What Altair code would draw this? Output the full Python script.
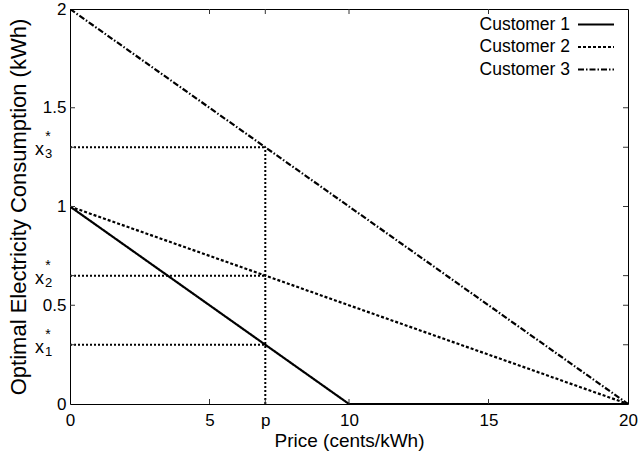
import altair as alt
import pandas as pd

# ---------------- data ----------------
customers = ["Customer 1", "Customer 2", "Customer 3"]
c1_price = [0, 10, 20]
c1_cons = [1, 0, 0]
c2_price = [0, 20]
c2_cons = [1, 0]
c3_price = [0, 20]
c3_cons = [2, 0]
p_value = 7
x_star = [0.3, 0.65, 1.3]
x_star_sub = ["1", "2", "3"]
x_ticks = [0, 5, 7, 10, 15, 20]
y_ticks = [0, 0.5, 1, 1.5, 2]
inner_x_ticks = [5, 7, 10, 15]
inner_y_ticks = [0.3, 0.5, 0.65, 1, 1.3, 1.5]

FONT = "Liberation Sans"
W, H = 558, 395

rows = []
for name, px, cy in [(customers[0], c1_price, c1_cons),
                     (customers[1], c2_price, c2_cons),
                     (customers[2], c3_price, c3_cons)]:
    for i, (a, b) in enumerate(zip(px, cy)):
        rows.append({"customer": name, "price": a, "cons": b, "order": i})
lines_df = pd.DataFrame(rows)

xs = alt.Scale(domain=[0, 20], nice=False, zero=False)
ys = alt.Scale(domain=[0, 2], nice=False, zero=False)

x_axis = alt.Axis(values=x_ticks, ticks=False, domain=False, grid=False,
                  labelExpr="datum.value == 7 ? 'p' : datum.label",
                  labelFont=FONT, labelFontSize=17, labelColor="black",
                  labelPadding=8, labelFlush=False, labelOverlap=False,
                  title="Price (cents/kWh)", titleFont=FONT, titleFontSize=19,
                  titleFontWeight="normal", titleColor="black", titlePadding=3)
y_axis = alt.Axis(values=y_ticks, ticks=False, domain=False, grid=False,
                  format="~g", labelFont=FONT, labelFontSize=17,
                  labelColor="black", labelPadding=4, labelFlush=False,
                  labelOverlap=False,
                  title="Optimal Electricity Consumption (kWh)", titleFont=FONT,
                  titleFontSize=22, titleFontWeight="normal", titleColor="black",
                  titlePadding=12)


def X(field):
    return alt.X(field, type="quantitative", scale=xs, axis=x_axis)


def Y(field):
    return alt.Y(field, type="quantitative", scale=ys, axis=y_axis)


dash_range = [[1, 0], [3, 2], [6, 2, 1.5, 2]]

lines = alt.Chart(lines_df).mark_line(color="black", strokeWidth=2.2, clip=True).encode(
    x=X("price"),
    y=Y("cons"),
    strokeDash=alt.StrokeDash("customer:N", scale=alt.Scale(domain=customers, range=dash_range), legend=None),
    order="order:Q",
)

# dotted guides
hdf = pd.DataFrame({"x0": [0] * len(x_star), "x1": [p_value] * len(x_star), "y": x_star})
hguides = alt.Chart(hdf).mark_rule(color="black", strokeWidth=2, strokeDash=[2, 2]).encode(
    x=X("x0"), x2="x1", y=Y("y"))
vdf = pd.DataFrame({"x": [p_value], "y0": [0], "y1": [max(x_star)]})
vguide = alt.Chart(vdf).mark_rule(color="black", strokeWidth=2, strokeDash=[2, 2]).encode(
    x=X("x"), y=Y("y0"), y2="y1")

# inward ticks
xt = pd.DataFrame({"v": inner_x_ticks})
yt = pd.DataFrame({"v": inner_y_ticks})
tick_col = "#333333"
bt = alt.Chart(xt).mark_rule(color=tick_col, strokeWidth=1).encode(
    x=X("v"), y=alt.value(H), y2=alt.value(H - 5))
tt = alt.Chart(xt).mark_rule(color=tick_col, strokeWidth=1).encode(
    x=X("v"), y=alt.value(0), y2=alt.value(5))
lt = alt.Chart(yt).mark_rule(color=tick_col, strokeWidth=1).encode(
    y=Y("v"), x=alt.value(0), x2=alt.value(5))
rt = alt.Chart(yt).mark_rule(color=tick_col, strokeWidth=1).encode(
    y=Y("v"), x=alt.value(W), x2=alt.value(W - 5))

# x* labels
sdf = pd.DataFrame({"y": x_star, "sub": x_star_sub})
xs_x = alt.Chart(sdf).mark_text(text="x", font=FONT, fontSize=18, align="left",
                                baseline="middle", dy=3, color="black").encode(
    x=alt.value(-35), y=Y("y"))
xs_sub = alt.Chart(sdf).mark_text(font=FONT, fontSize=13, align="left",
                                  baseline="middle", dy=7, color="black").encode(
    x=alt.value(-25), y=Y("y"), text="sub:N")
xs_ast = alt.Chart(sdf).mark_text(text="*", font=FONT, fontSize=14, align="center",
                                  baseline="middle", dy=-10, color="black").encode(
    x=alt.value(-22), y=Y("y"))

# legend (manual, label left of symbol)
leg_y = [15.5, 38, 60.5]
leg_layers = []
for name, yy, dash in zip(customers, leg_y, dash_range):
    d = pd.DataFrame({"name": [name]})
    leg_layers.append(alt.Chart(d).mark_text(font=FONT, fontSize=17.5, align="right",
                                             baseline="middle", color="black").encode(
        x=alt.value(500), y=alt.value(yy), text="name:N"))
    leg_layers.append(alt.Chart(d).mark_rule(color="black", strokeWidth=2, strokeDash=dash).encode(
        x=alt.value(508), x2=alt.value(544), y=alt.value(yy)))

chart = alt.layer(hguides, vguide, lines, bt, tt, lt, rt, xs_x, xs_sub, xs_ast,
                  *leg_layers).properties(
    width=W, height=H,
    autosize=alt.AutoSizeParams(type="none"),
    padding={"left": 70, "top": 9, "right": 10, "bottom": 49},
    background="white",
).configure_view(stroke="black", strokeWidth=1)

chart.save("out.html", embed_options={"renderer": "svg", "actions": False})
